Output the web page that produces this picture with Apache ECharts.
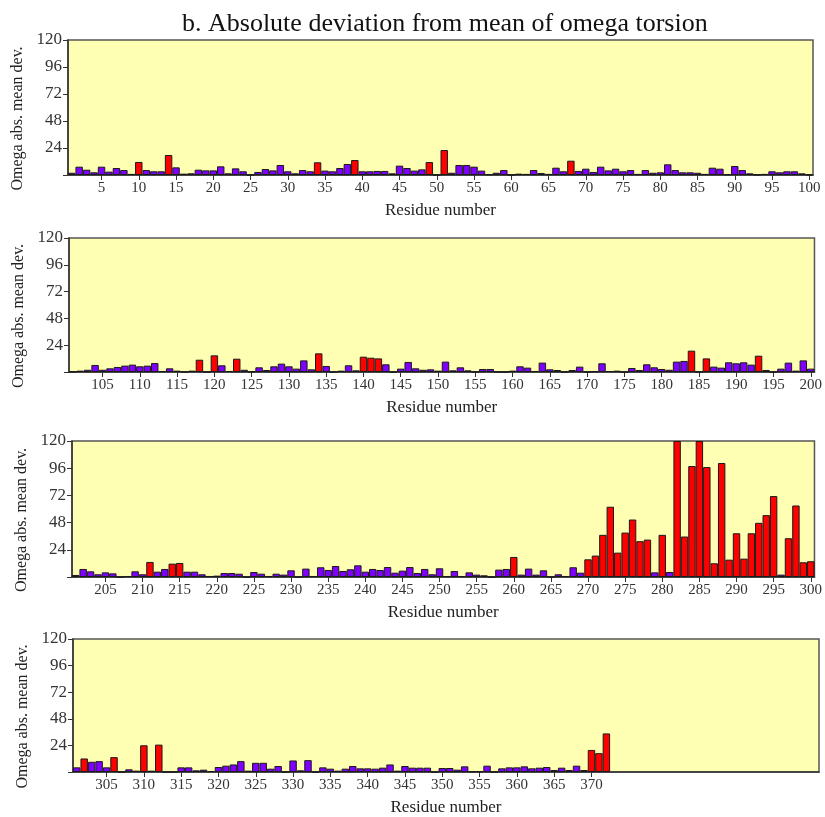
<!DOCTYPE html>
<html><head><meta charset="utf-8">
<script src="https://cdn.jsdelivr.net/npm/echarts@6/dist/echarts.min.js"></script>
<style>html,body{margin:0;padding:0;background:#fff}#c{width:825px;height:817px}</style>
</head><body><div id="c"></div>
<script>
// Omega abs. mean deviation per residue
var dev1_100 = [2,7.4,4.7,2.4,7.4,3,6.2,4.4,1,11.6,
4.4,3.3,3.3,17.8,6.8,1.2,1.5,4.7,4.1,4.1,
7.7,1.5,5.9,3.3,0,2.7,5.3,4.1,8.9,3.3,
1.5,4.4,3.3,11.3,3.9,3.3,6.2,9.8,13.3,3.3,
3.3,3.6,3.6,1.5,8.3,6.2,3.9,5,11.5,0,
22.2,2,8.9,8.9,7.4,3.9,0.6,2,4.4,0,
1.2,1,4.4,1.8,1,6.5,3.3,12.7,3.6,5.6,
2.7,7.4,4.1,5.6,3.3,4.4,1,4.4,2,2.4,
9.5,4.4,2.4,2.4,2,1,6.5,5.6,0.6,8,
4.4,1.5,0.3,1,3.3,2.4,3.3,3.3,1.5,0.3];
var dev101_200 = [0.3,1.2,2,6.3,2,3.3,4.5,5.7,6.6,5.1,
5.7,8,0.9,3.3,1.2,0,1.2,11,0,14.9,
6,0.9,11.9,2,0.3,4.2,1.8,5.1,7.5,5.1,
3,10.4,2.4,16.7,5.4,0,1.2,6,1.5,13.7,
12.8,12.2,6.9,0,3,9,3.3,2,2.4,1.2,
9.3,1.5,4.2,1.5,0,2.7,2.7,0,0,1.2,
5.1,3.9,0.9,8.4,2.4,1.8,0,1.8,4.8,0,
0.6,7.8,0.9,1.2,0,3.6,1.8,6.9,4.2,2.7,
2,9.3,9.9,19.1,0,12.2,4.8,3.9,8.7,7.8,
8.7,6.6,14.6,1.8,0,3,8.4,1.2,10.4,3];
var dev201_300 = [1.8,7.1,5,2.4,4.1,3.2,0,0.9,5,2.4,
13.3,4.7,7.1,11.8,12.4,4.7,4.7,2.4,0.9,1.2,
3.5,3.5,2.9,0,4.4,2.9,0.9,2.9,2.1,5.9,
0,7.4,0.9,8.6,6.2,9.7,5.3,6.8,10.3,4.7,
7.1,6.2,8.8,3.8,5.6,8.8,3.5,7.1,2.4,7.7,
0.9,5.3,0.9,4.1,2.1,1.5,0,6.5,7.1,17.7,
2.1,7.4,2.1,5.9,0,2.4,0.9,8.6,3.8,15.6,
18.9,37.2,62,21.5,39.2,50.7,31.6,33,4.1,37.2,
4.4,120,35.7,97.9,120,97,12.1,100.6,15.3,38.6,
16.2,38.6,47.8,54.6,71.4,2.1,34.2,63.1,13,13.9];
var dev301_372 = [4.2,12.2,9.2,9.8,4.2,13.4,0,2.4,1.2,24.1,
1.2,24.7,0,0,4.2,4.2,1.5,2.1,0.9,4.5,
5.7,6.8,9.8,1.2,8.3,8.3,3,5.4,0,10.4,
1.5,10.7,0,4.2,3,1.2,3,5.4,3.3,3.3,
3,3.9,6.8,1.2,5.4,3.9,3.9,3.9,0,3.6,
3.6,2.1,5.1,0.6,0.6,5.7,0,3.3,4.2,4.2,
5.1,3.3,3.9,4.5,1.8,3.9,1.8,5.7,1.8,19.9,
17,34.8];
// residues drawn in red (flagged)
var flaggedResidues = [10,14,34,39,49,51,68,118,120,123,134,140,141,142,184,186,193,
211,214,215,260,270,271,272,273,274,275,276,277,278,280,282,283,284,285,286,287,288,
289,290,291,292,293,294,295,297,298,299,300,302,306,310,312,370,371,372];
var panelStarts = [1,101,201,301];
var lastResidue = 372;
var yTicks = [0,24,48,72,96,120];
var titleText = 'b. Absolute deviation from mean of omega torsion';
var xName = 'Residue number';
var yName = 'Omega abs. mean dev.';

var panels = [dev1_100, dev101_200, dev201_300, dev301_372];
var gridPos = [
  {left:68, top:40, width:745, height:135},
  {left:69, top:238, width:746, height:134},
  {left:72, top:441, width:746, height:136},
  {left:73, top:639, width:746, height:134}
];
var serif = "'Liberation Serif','Times New Roman',serif";
var purple = '#7F00FF', red = '#FF0000';

var grids=[], xAxes=[], yAxes=[], series=[];
panels.forEach(function(vals, p){
  var start = panelStarts[p];
  var cats = [];
  for (var i=0;i<100;i++) cats.push(String(start+i));
  var data = vals.map(function(v,i){
    var r = start+i;
    return {value:v, itemStyle:{color: flaggedResidues.indexOf(r)>=0 ? red : purple}};
  });
  var showFn = function(idx, val){ var n=Number(val); return n%5===0 && n<=lastResidue; };
  grids.push(Object.assign({show:true, backgroundColor:'#FFFFB3', borderColor:'#555', borderWidth:1.5, containLabel:false}, gridPos[p]));
  xAxes.push({type:'category', gridIndex:p, data:cats, boundaryGap:true,
    name:xName, nameLocation:'middle', nameGap:27,
    nameTextStyle:{fontFamily:serif, fontSize:17, color:'#222'},
    axisLine:{show:true, lineStyle:{color:'#333', width:1.5}},
    axisTick:{show:true, interval:showFn, alignWithLabel:true, length:5, lineStyle:{color:'#333'}},
    axisLabel:{interval:showFn, fontFamily:serif, fontSize:15, color:'#333', margin:6, hideOverlap:false},
    splitLine:{show:false}});
  yAxes.push({type:'value', gridIndex:p, min:0, max:120, interval:24,
    name:yName, nameLocation:'middle', nameGap:42, nameRotate:90,
    nameTextStyle:{fontFamily:serif, fontSize:16, color:'#222', padding:[0,22,0,0]},
    axisLine:{show:true, lineStyle:{color:'#333', width:1.5}},
    axisTick:{show:true, length:5, lineStyle:{color:'#333'}},
    axisLabel:{fontFamily:serif, fontSize:17, color:'#333', margin:6,
      formatter:function(v){ return yTicks.indexOf(v)>0 ? String(v) : ''; }},
    splitLine:{show:false}});
  series.push({type:'bar', xAxisIndex:p, yAxisIndex:p, data:data, barCategoryGap:'0%',
    itemStyle:{borderColor:'#1a1a1a', borderWidth:1}, animation:false, clip:true});
});

var chart = echarts.init(document.getElementById('c'), null, {renderer:'canvas'});
chart.setOption({
  animation:false,
  backgroundColor:'#fff',
  title:{text:titleText, left:177, top:6, textStyle:{fontFamily:serif, fontSize:26, fontWeight:'normal', color:'#111'}},
  grid:grids, xAxis:xAxes, yAxis:yAxes, series:series
});
</script></body></html>
